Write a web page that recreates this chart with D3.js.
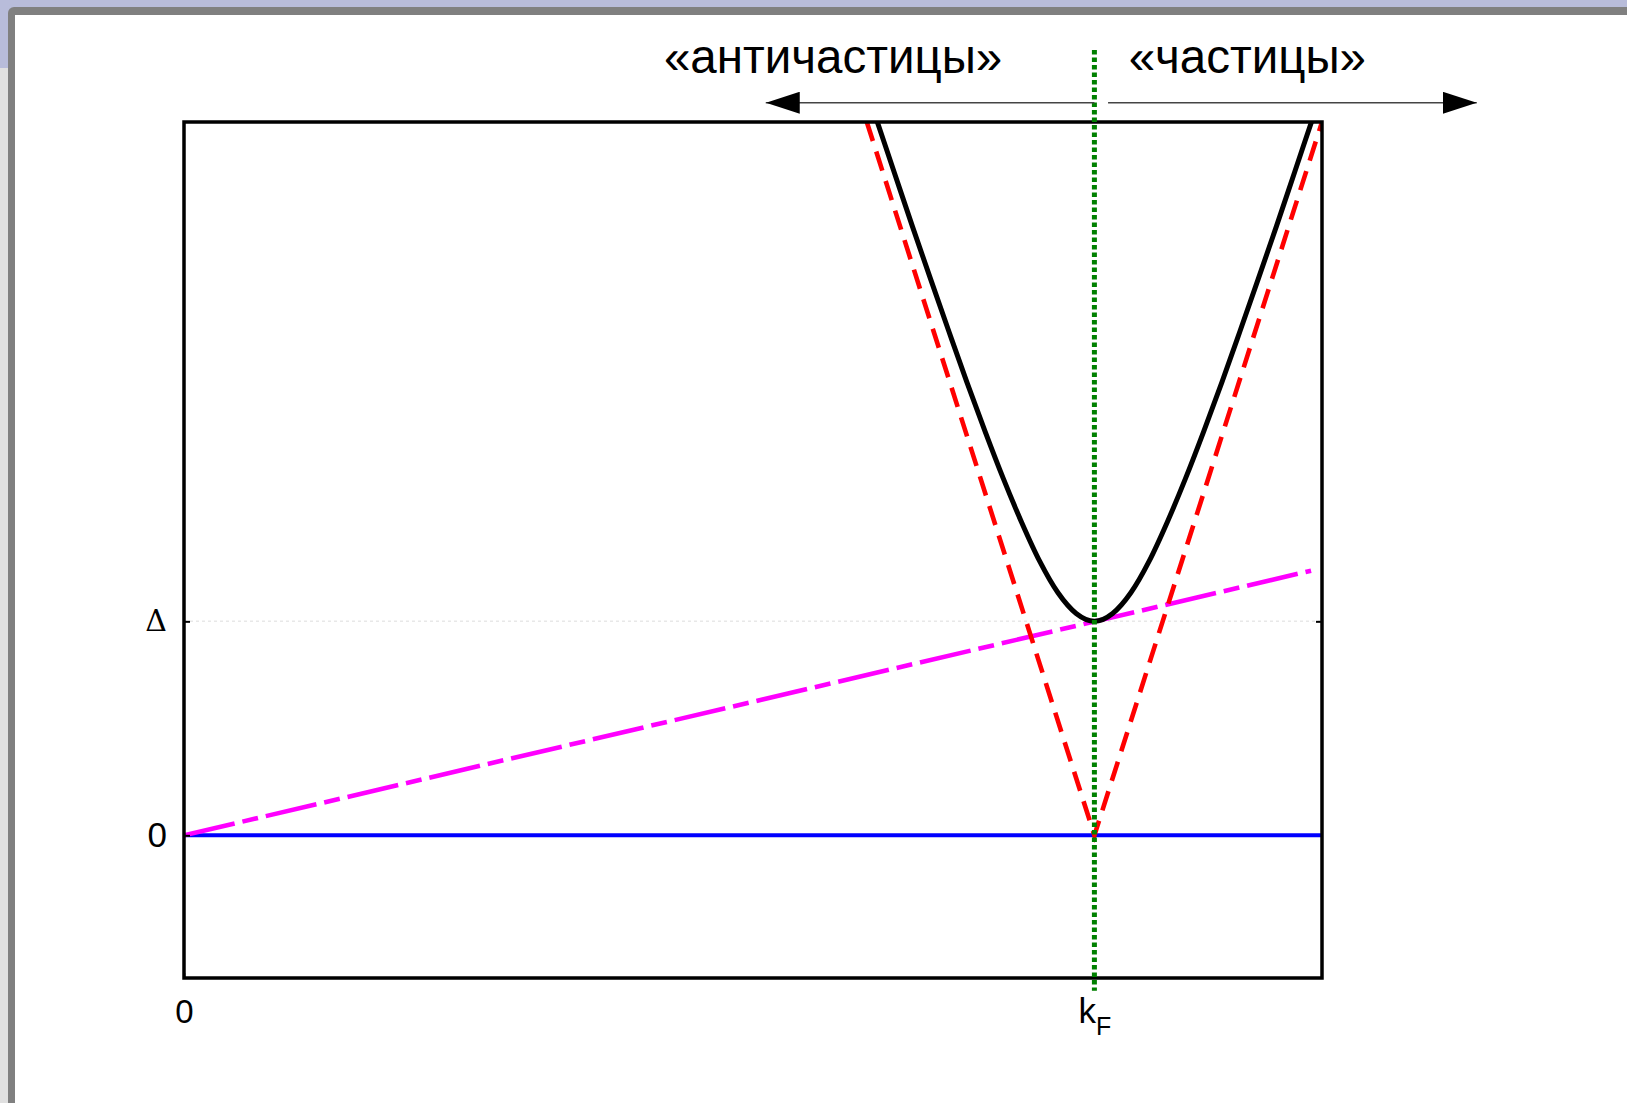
<!DOCTYPE html>
<html>
<head>
<meta charset="utf-8">
<script src="https://cdn.jsdelivr.net/npm/d3@7"></script>
<style>
  html, body { margin: 0; padding: 0; background: #ffffff; }
  svg { display: block; }
</style>
</head>
<body>
<svg id="chart" width="1627" height="1103"></svg>
<script>
// Momentum axis (units of k_F) and energy axis (units where Δ = 0.3)
const kF = 1;
const gap = 0.3;

// Bogoliubov quasiparticle branch E(k) (black)
const quasiK = [0.76, 0.78, 0.80, 0.82, 0.84, 0.86, 0.88, 0.90, 0.92, 0.94, 0.96, 0.98, 1.00,
                1.02, 1.04, 1.06, 1.08, 1.10, 1.12, 1.14, 1.16, 1.18, 1.20, 1.22, 1.24];
const quasiE = [1.006, 0.930, 0.854, 0.780, 0.707, 0.635, 0.566, 0.500, 0.439, 0.384, 0.340, 0.311, 0.300,
                0.311, 0.340, 0.384, 0.439, 0.500, 0.566, 0.635, 0.707, 0.780, 0.854, 0.930, 1.006];

// Normal-state |ξ(k)| (red dashed)
const normalK = [0.75, 1.00, 1.25];
const normalE = [1.00, 0.00, 1.00];

// Critical-velocity line E = v_c k (magenta dash-dot)
const landauK = [0.00, 1.238];
const landauE = [0.00, 0.371];

// Ground level (blue)
const groundK = [0.00, 1.25];
const groundE = [0.00, 0.00];

// Axis ticks
const yTickValues = [0, gap];
const yTickLabels = ["0", "Δ"];
const xTickValues = [0, kF];
const xTickLabels = ["0", "kF"];

// Header labels
const headerLabels = ["«античастицы»", "«частицы»"];
const headerK = [0.713, 1.168];

const svg = d3.select("#chart");
const W = 1627, H = 1103;

// Window chrome: lavender strip, grey side, grey border and white panel
svg.append("rect").attr("x", 0).attr("y", 0).attr("width", W).attr("height", 68).attr("fill", "#b8bcda");
svg.append("rect").attr("x", 0).attr("y", 68).attr("width", 9).attr("height", H - 68).attr("fill", "#e0e0e0");
svg.append("rect").attr("x", 8).attr("y", 7).attr("width", W).attr("height", H).attr("rx", 6).attr("fill", "#808080");
svg.append("rect").attr("x", 15).attr("y", 15).attr("width", W).attr("height", H).attr("fill", "#ffffff");

const plot = { left: 184, right: 1322, top: 122, bottom: 978 };
const x = d3.scaleLinear().domain([0, 1.25]).range([plot.left, plot.right]);
const y = d3.scaleLinear().domain([-0.2, 1.0]).range([plot.bottom, plot.top]);

svg.append("defs").append("clipPath").attr("id", "plotClip")
  .append("rect")
  .attr("x", plot.left).attr("y", plot.top)
  .attr("width", plot.right - plot.left).attr("height", plot.bottom - plot.top);

const pts = (ks, es) => ks.map((k, i) => [k, es[i]]);
const line = d3.line().x(d => x(d[0])).y(d => y(d[1]));
const smooth = d3.line().x(d => x(d[0])).y(d => y(d[1])).curve(d3.curveMonotoneX);

const g = svg.append("g").attr("clip-path", "url(#plotClip)");

// faint dotted guide at E = Δ
g.append("line")
  .attr("x1", x(0)).attr("x2", x(1.25))
  .attr("y1", y(gap)).attr("y2", y(gap))
  .attr("stroke", "#e8e8e8").attr("stroke-width", 1.5).attr("stroke-dasharray", "3,3");

g.append("path").datum(pts(groundK, groundE)).attr("d", line)
  .attr("fill", "none").attr("stroke", "#0000ff").attr("stroke-width", 4);

g.append("path").datum(pts(landauK, landauE)).attr("d", line)
  .attr("fill", "none").attr("stroke", "#ff00ff").attr("stroke-width", 4.6)
  .attr("stroke-dasharray", "52,8,16,8");

g.append("path").datum(pts(normalK, normalE)).attr("d", line)
  .attr("fill", "none").attr("stroke", "#ff0000").attr("stroke-width", 4.6)
  .attr("stroke-dasharray", "20,11");

g.append("path").datum(pts(quasiK, quasiE)).attr("d", smooth)
  .attr("fill", "none").attr("stroke", "#000000").attr("stroke-width", 5);

// Axes with inward ticks
const yAxis = d3.axisLeft(y).tickValues(yTickValues).tickSize(-6).tickPadding(17)
  .tickFormat((d, i) => yTickLabels[i]);
const yAx = svg.append("g").attr("transform", `translate(${plot.left},0)`).call(yAxis);
yAx.select(".domain").remove();
yAx.selectAll("line").attr("stroke", "#000").attr("stroke-width", 2);
yAx.selectAll("text")
  .attr("fill", "#000")
  .style("font-family", (d, i) => i === 1 ? "'DejaVu Serif', 'Liberation Serif', serif" : "'Liberation Sans', Arial, sans-serif")
  .style("font-size", (d, i) => i === 1 ? "30px" : "35px");

const yAxisRight = d3.axisRight(y).tickValues([gap]).tickSize(-6).tickFormat("");
const yAxR = svg.append("g").attr("transform", `translate(${plot.right},0)`).call(yAxisRight);
yAxR.select(".domain").remove();
yAxR.selectAll("line").attr("stroke", "#000").attr("stroke-width", 2);

const xAxis = d3.axisBottom(x).tickValues(xTickValues).tickSize(-5).tickPadding(22)
  .tickFormat((d, i) => xTickLabels[i]);
const xAx = svg.append("g").attr("transform", `translate(0,${plot.bottom})`).call(xAxis);
xAx.select(".domain").remove();
xAx.selectAll("line").attr("stroke", "#000").attr("stroke-width", 1.5);
xAx.selectAll("text")
  .attr("fill", "#000")
  .style("font-family", "'Liberation Sans', Arial, sans-serif")
  .style("font-size", "33px")
  .each(function (d, i) {
    if (xTickLabels[i] === "kF") {
      const t = d3.select(this).text(null);
      t.append("tspan").text("k").style("font-size", "35px");
      t.append("tspan").text("F").attr("dy", "0.45em").style("font-size", "25px");
    }
  });

// Plot frame
svg.append("rect")
  .attr("x", plot.left).attr("y", plot.top)
  .attr("width", plot.right - plot.left).attr("height", plot.bottom - plot.top)
  .attr("fill", "none").attr("stroke", "#000").attr("stroke-width", 3.5);

// Fermi momentum marker (green dotted)
svg.append("line")
  .attr("x1", x(kF)).attr("x2", x(kF))
  .attr("y1", y(1.101)).attr("y2", y(-0.218))
  .attr("stroke", "#008000").attr("stroke-width", 5).attr("stroke-dasharray", "4.5,3");

// Direction arrows for hole-like and particle-like excitations
const defs = svg.select("defs");
defs.append("marker").attr("id", "head")
  .attr("viewBox", "0 0 34 22").attr("refX", 34).attr("refY", 11)
  .attr("markerWidth", 34).attr("markerHeight", 22)
  .attr("markerUnits", "userSpaceOnUse").attr("orient", "auto")
  .append("path").attr("d", "M0,0 L34,11 L0,22 Z").attr("fill", "#000");

const arrowY = 1.027;
const arrows = [[kF, 0.639], [1.015, 1.42]];
svg.selectAll("line.arrow").data(arrows).enter().append("line")
  .attr("class", "arrow")
  .attr("x1", d => x(d[0])).attr("x2", d => x(d[1]))
  .attr("y1", y(arrowY)).attr("y2", y(arrowY))
  .attr("stroke", "#444").attr("stroke-width", 1.6)
  .attr("marker-end", "url(#head)");

svg.selectAll("text.header").data(headerLabels).enter().append("text")
  .attr("class", "header")
  .attr("x", (d, i) => x(headerK[i]))
  .attr("y", y(1.068))
  .attr("text-anchor", "middle")
  .style("font-family", "'Liberation Sans', Arial, sans-serif")
  .style("font-size", "47.5px")
  .attr("fill", "#000")
  .text(d => d);
</script>
</body>
</html>
